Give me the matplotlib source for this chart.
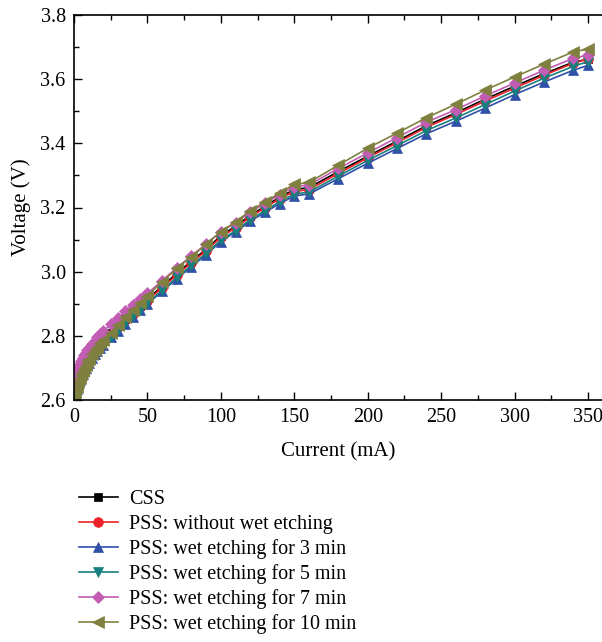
import matplotlib
matplotlib.use("Agg")
import matplotlib.pyplot as plt
from matplotlib.ticker import MultipleLocator, FormatStrFormatter

current = [0, 1, 2, 3, 4, 5, 6, 7, 8, 9, 10, 12, 14, 16, 18, 20, 25, 30, 35, 40, 45, 50,
           60, 70, 80, 90, 100, 110, 120, 130, 140, 150, 160, 180, 200, 220, 240, 260,
           280, 300, 320, 340, 350]

css = [2.61, 2.63, 2.645, 2.66, 2.672, 2.683, 2.693, 2.703, 2.712, 2.72, 2.728, 2.742, 2.754,
       2.765, 2.775, 2.785, 2.808, 2.83, 2.852, 2.873, 2.894, 2.914, 2.955, 2.995, 3.033, 3.07,
       3.112, 3.142, 3.175, 3.204, 3.232, 3.256, 3.262, 3.312, 3.36, 3.407, 3.455, 3.495,
       3.538, 3.578, 3.617, 3.653, 3.662]

pss_no_etch = [2.60, 2.625, 2.64, 2.655, 2.668, 2.679, 2.689, 2.699, 2.708, 2.716, 2.724, 2.738,
               2.75, 2.761, 2.771, 2.781, 2.804, 2.826, 2.848, 2.869, 2.89, 2.91, 2.95, 2.99,
               3.028, 3.065, 3.107, 3.137, 3.17, 3.199, 3.227, 3.25, 3.256, 3.306, 3.355,
               3.402, 3.45, 3.49, 3.532, 3.572, 3.612, 3.65, 3.663]

pss_3min = [2.60, 2.62, 2.635, 2.65, 2.662, 2.672, 2.682, 2.691, 2.70, 2.708, 2.716, 2.73,
            2.742, 2.753, 2.763, 2.772, 2.795, 2.816, 2.838, 2.858, 2.879, 2.899, 2.939,
            2.978, 3.016, 3.053, 3.094, 3.124, 3.157, 3.185, 3.212, 3.236, 3.242, 3.29,
            3.338, 3.384, 3.43, 3.469, 3.51, 3.552, 3.591, 3.628, 3.643]

pss_5min = [2.60, 2.62, 2.635, 2.65, 2.662, 2.673, 2.683, 2.692, 2.701, 2.709, 2.717, 2.731,
            2.743, 2.754, 2.764, 2.774, 2.797, 2.818, 2.84, 2.861, 2.882, 2.902, 2.942,
            2.982, 3.02, 3.057, 3.098, 3.128, 3.162, 3.19, 3.218, 3.242, 3.248, 3.298,
            3.347, 3.393, 3.44, 3.479, 3.521, 3.563, 3.603, 3.64, 3.655]

pss_7min = [2.63, 2.665, 2.685, 2.70, 2.712, 2.722, 2.731, 2.74, 2.748, 2.755, 2.762, 2.774,
            2.785, 2.795, 2.805, 2.814, 2.836, 2.857, 2.877, 2.896, 2.914, 2.932, 2.972, 3.012,
            3.05, 3.086, 3.125, 3.152, 3.185, 3.213, 3.24, 3.265, 3.27, 3.322, 3.37,
            3.418, 3.466, 3.505, 3.548, 3.588, 3.628, 3.665, 3.675]

pss_10min = [2.60, 2.625, 2.64, 2.655, 2.668, 2.68, 2.69, 2.70, 2.71, 2.72, 2.728, 2.742,
             2.755, 2.766, 2.777, 2.787, 2.81, 2.835, 2.858, 2.88, 2.902, 2.925, 2.968,
             3.01, 3.047, 3.085, 3.125, 3.155, 3.19, 3.217, 3.245, 3.272, 3.278, 3.332,
             3.385, 3.432, 3.48, 3.522, 3.566, 3.607, 3.647, 3.685, 3.694]

labels = ["CSS", "PSS: without wet etching", "PSS: wet etching for 3 min",
          "PSS: wet etching for 5 min", "PSS: wet etching for 7 min",
          "PSS: wet etching for 10 min"]

series = [css, pss_no_etch, pss_3min, pss_5min, pss_7min, pss_10min]
colors = ["#000000", "#EE2228", "#2F4FA8", "#17807E", "#C25DB4", "#7F8040"]
markers = ["s", "o", "^", "v", "D", "<"]
msizes = [6, 7, 7.5, 7.5, 6.5, 8]

plt.rcParams['font.family'] = ['Liberation Serif', 'DejaVu Serif']

fig = plt.figure(figsize=(6.02, 6.42), dpi=100)
ax = fig.add_axes([74 / 602, 1 - 400 / 642, 1 - 74 / 602, (400 - 15) / 642])

handles = []
for ys, c, m, ms, lab in zip(series, colors, markers, msizes, labels):
    h, = ax.plot(current, ys, color=c, marker=m, markersize=ms, linewidth=1.2,
                 markeredgewidth=0.5, markeredgecolor=c, label=lab)
    handles.append(h)

ax.set_xlim(0, 359.5)
ax.set_ylim(2.6, 3.8)
ax.xaxis.set_major_locator(MultipleLocator(50))
ax.xaxis.set_minor_locator(MultipleLocator(25))
ax.yaxis.set_major_locator(MultipleLocator(0.2))
ax.yaxis.set_minor_locator(MultipleLocator(0.1))
ax.yaxis.set_major_formatter(FormatStrFormatter('%.1f'))
ax.tick_params(which='both', direction='in', top=True, right=False, labelsize=14.5)
ax.tick_params(which='major', length=6, width=1)
ax.tick_params(which='minor', length=3.5, width=1)
ax.tick_params(axis='y', pad=6)
ax.tick_params(axis='x', pad=6)
ax.spines['right'].set_visible(False)
for s in ['left', 'bottom', 'top']:
    ax.spines[s].set_linewidth(1.2)

ax.set_xlabel("Current (mA)", fontsize=15, labelpad=11)
ax.set_ylabel("Voltage (V)", fontsize=15, labelpad=7)

fig.legend(handles=handles, labels=labels, loc='upper left',
           bbox_to_anchor=(0.115, 0.252), frameon=False, fontsize=14.5,
           handlelength=1.9, handletextpad=0.55, labelspacing=0.26, borderpad=0)

fig.savefig("out.png", dpi=100)
